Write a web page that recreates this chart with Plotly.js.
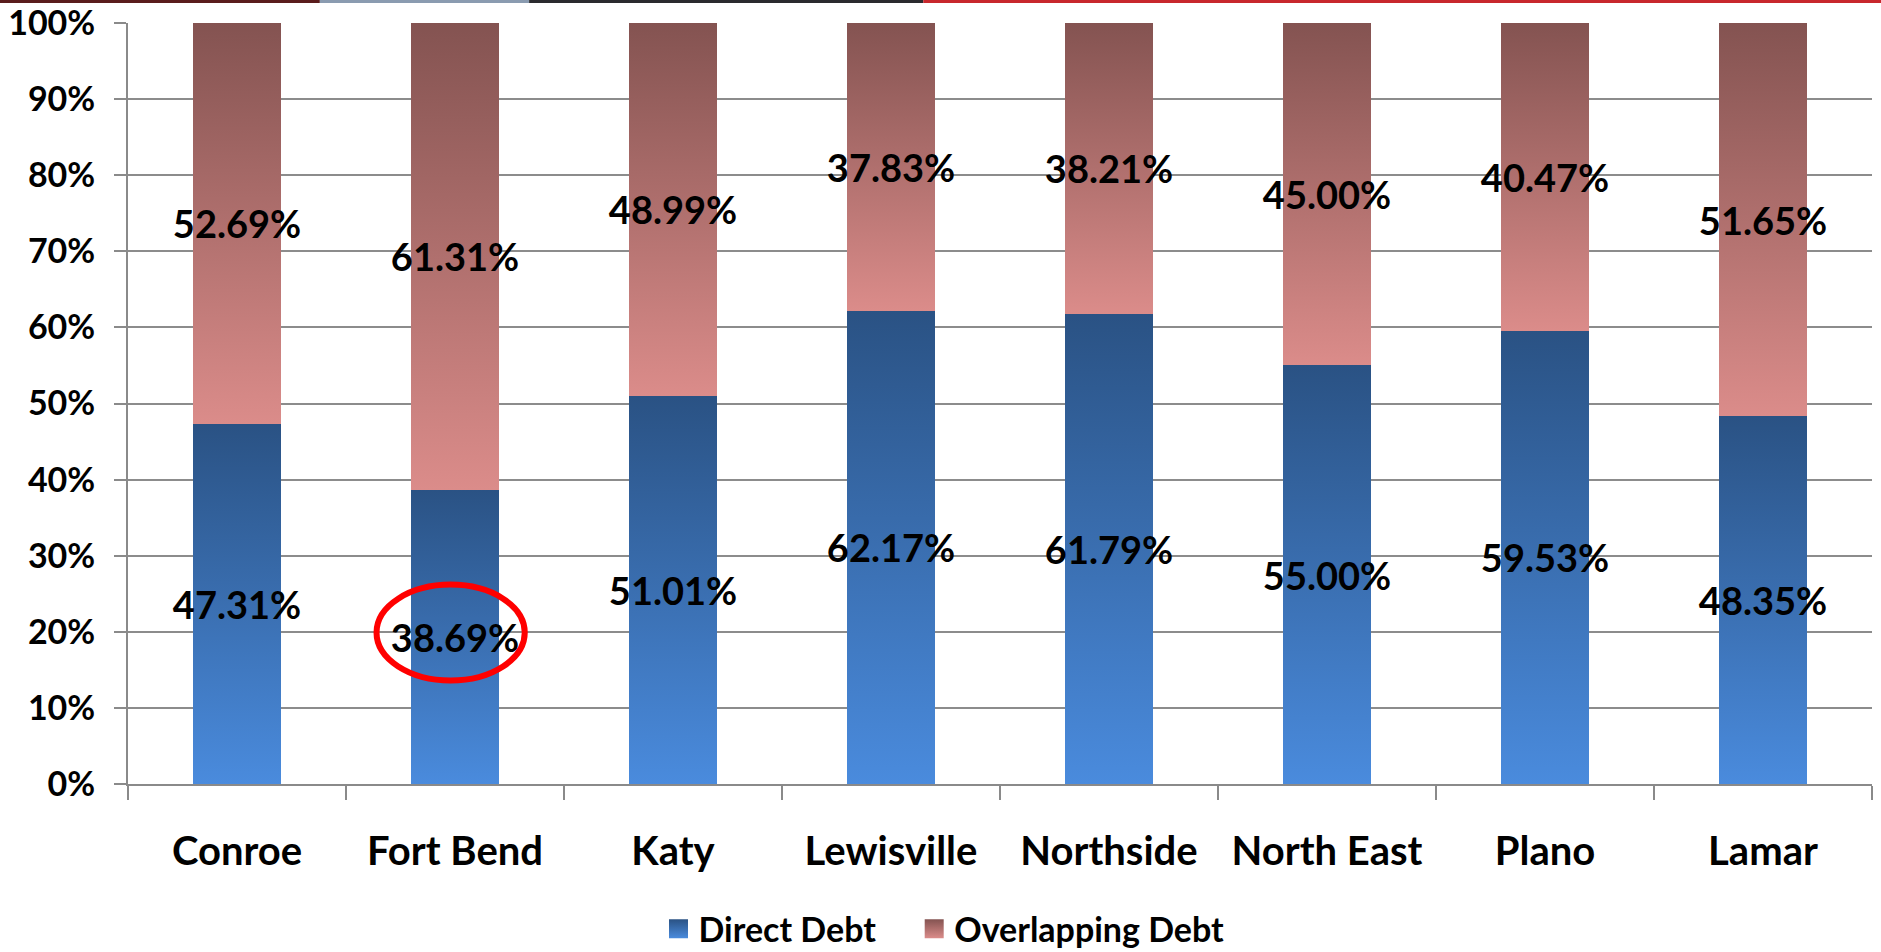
<!DOCTYPE html>
<html>
<head>
<meta charset="utf-8">
<script src="https://cdn.plot.ly/plotly-3.0.1.min.js"></script>
<style>
html,body{margin:0;padding:0;background:#fff;}
#chart{width:1881px;height:952px;}
</style>
</head>
<body>
<div id="chart"></div>
<script>
const categories = ["Conroe", "Fort Bend", "Katy", "Lewisville", "Northside", "North East", "Plano", "Lamar"];
const directDebt = [47.31, 38.69, 51.01, 62.17, 61.79, 55.00, 59.53, 48.35];
const overlappingDebt = [52.69, 61.31, 48.99, 37.83, 38.21, 45.00, 40.47, 51.65];
const yTickValues = [0, 10, 20, 30, 40, 50, 60, 70, 80, 90, 100];
const yTickLabels = ["0%", "10%", "20%", "30%", "40%", "50%", "60%", "70%", "80%", "90%", "100%"];

const FONT = "Lato, 'Open Sans', sans-serif";
const fmt = v => v.toFixed(2) + "%";

const common = {
  type: "bar",
  x: categories,
  textposition: "inside",
  insidetextanchor: "middle",
  textangle: 0,
  constraintext: "none",
  insidetextfont: {family: FONT, size: 38, color: "#000", weight: 700},
  hoverinfo: "x+y+name"
};

const traces = [
  Object.assign({}, common, {
    name: "Direct Debt",
    y: directDebt,
    text: directDebt.map(fmt),
    marker: {color: "#3a6fb5", line: {width: 0}}
  }),
  Object.assign({}, common, {
    name: "Overlapping Debt",
    y: overlappingDebt,
    text: overlappingDebt.map(fmt),
    marker: {color: "#b26f6c", line: {width: 0}}
  })
];

const layout = {
  width: 1881,
  height: 952,
  barmode: "stack",
  bargap: 0.6,
  paper_bgcolor: "#fff",
  plot_bgcolor: "#fff",
  margin: {l: 128, r: 9, t: 23, b: 168, autoexpand: false},
  font: {family: FONT, color: "#000"},
  showlegend: true,
  legend: {
    orientation: "h",
    xref: "container", yref: "container",
    x: 0.5, xanchor: "center",
    y: 0.024, yanchor: "middle",
    font: {family: FONT, size: 34, weight: 700, color: "#000"},
    itemwidth: 30,
    traceorder: "normal"
  },
  xaxis: {
    type: "category",
    showgrid: false,
    showline: true,
    linecolor: "#8a8a8a",
    linewidth: 2,
    ticks: "outside",
    tickson: "boundaries",
    ticklen: 14,
    tickwidth: 2,
    tickcolor: "#8a8a8a",
    ticklabelstandoff: 31,
    tickfont: {family: FONT, size: 40, weight: 700, color: "#000"},
    fixedrange: true
  },
  yaxis: {
    range: [0, 100],
    tickvals: yTickValues,
    ticktext: yTickLabels,
    showgrid: true,
    gridcolor: "#8c8c8c",
    gridwidth: 2,
    showline: true,
    linecolor: "#8a8a8a",
    linewidth: 2,
    ticks: "outside",
    ticklen: 12,
    tickwidth: 2,
    tickcolor: "#8a8a8a",
    ticklabelstandoff: 12,
    tickfont: {family: FONT, size: 34, weight: 700, color: "#000"},
    zeroline: false,
    fixedrange: true
  },
  shapes: [
    {type: "circle", xref: "x", yref: "y", x0: 0.64, x1: 1.32, y0: 13.6, y1: 26.2,
     line: {color: "#ff0000", width: 6}, fillcolor: "rgba(0,0,0,0)", layer: "above"},
    {type: "rect", xref: "paper", yref: "paper", yanchor: 1, ysizemode: "pixel",
     x0: -0.0734, x1: 0.11, y0: 20, y1: 23, line: {width: 0}, fillcolor: "#5a1c1c"},
    {type: "rect", xref: "paper", yref: "paper", yanchor: 1, ysizemode: "pixel",
     x0: 0.11, x1: 0.23, y0: 20, y1: 23, line: {width: 0}, fillcolor: "#8a9bb0"},
    {type: "rect", xref: "paper", yref: "paper", yanchor: 1, ysizemode: "pixel",
     x0: 0.23, x1: 0.456, y0: 20, y1: 23, line: {width: 0}, fillcolor: "#2a2a2e"},
    {type: "rect", xref: "paper", yref: "paper", yanchor: 1, ysizemode: "pixel",
     x0: 0.456, x1: 1.006, y0: 20, y1: 23, line: {width: 0}, fillcolor: "#c8282d"}
  ]
};

function addGradients(gd) {
  const svg = gd.querySelector("svg.main-svg");
  if (!svg) return;
  let defs = svg.querySelector("defs");
  const ns = "http://www.w3.org/2000/svg";
  if (!defs) { defs = document.createElementNS(ns, "defs"); svg.insertBefore(defs, svg.firstChild); }
  function grad(id, top, bottom) {
    if (defs.querySelector("#" + id)) return;
    const g = document.createElementNS(ns, "linearGradient");
    g.setAttribute("id", id);
    g.setAttribute("x1", "0"); g.setAttribute("y1", "0");
    g.setAttribute("x2", "0"); g.setAttribute("y2", "1");
    const s1 = document.createElementNS(ns, "stop");
    s1.setAttribute("offset", "0"); s1.setAttribute("stop-color", top);
    const s2 = document.createElementNS(ns, "stop");
    s2.setAttribute("offset", "1"); s2.setAttribute("stop-color", bottom);
    g.appendChild(s1); g.appendChild(s2);
    defs.appendChild(g);
  }
  grad("gradDirect", "#2a5284", "#4a8bdd");
  grad("gradOver", "#845351", "#db8c8a");
  const ids = ["gradDirect", "gradOver"];
  gd.querySelectorAll(".barlayer .trace.bars").forEach((tr, i) => {
    tr.querySelectorAll(".point path").forEach(p => { p.style.fill = "url(#" + ids[i] + ")"; });
  });
  gd.querySelectorAll(".legend .scrollbox, .legend").forEach(el => el.removeAttribute("clip-path"));
  const shifts = [-13, 20];
  gd.querySelectorAll(".legend .traces").forEach((tr, i) => {
    tr.querySelectorAll(".legendpoints path").forEach(p => {
      p.setAttribute("d", "M9.5,9.5H-9.5V-9.5H9.5Z");
      p.style.fill = "url(#" + ids[i] + ")"; p.style.stroke = "none";
    });
    if (!tr.getAttribute("data-shifted")) {
      const t = tr.getAttribute("transform") || "";
      const m = t.match(/translate\(\s*([-\d.e]+)[ ,]+([-\d.e]+)\s*\)/);
      if (m) {
        const nx = parseFloat(m[1]) + (shifts[i] || 0);
        tr.setAttribute("transform", "translate(" + nx + "," + m[2] + ")");
        tr.setAttribute("data-shifted", "1");
      }
    }
  });
}

Plotly.newPlot("chart", traces, layout, {displayModeBar: false, staticPlot: true}).then(gd => {
  addGradients(gd);
  gd.on("plotly_afterplot", () => addGradients(gd));
});
</script>
</body>
</html>
